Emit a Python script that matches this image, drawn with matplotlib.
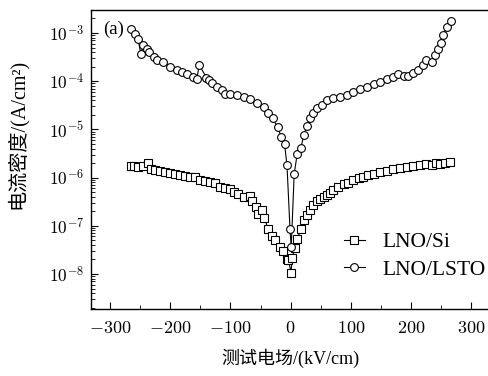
import matplotlib
matplotlib.use("Agg")
import matplotlib.pyplot as plt
from matplotlib.ticker import FuncFormatter, FixedLocator, NullFormatter
import numpy as np

plt.rcParams['mathtext.fontset'] = 'cm'

# LNO/Si (squares)
si_x = [-266, -260, -253, -246, -238, -232, -225, -217, -209, -200, -192, -184, -175, -167,
        -159, -150, -142, -134, -125, -117, -109, -100, -94, -87, -78, -68, -64, -58, -54,
        -48, -44, -37, -31, -26, -17, -12, -6, -4, 1, 2, 7, 11, 17, 22, 27, 32, 38, 44, 49,
        55, 60, 66, 71, 79, 88, 96, 104, 113, 121, 129, 138, 149, 160, 171, 182, 193, 204,
        215, 226, 235, 242, 248, 257, 265]
si_y = [1.77e-6, 1.74e-6, 1.69e-6, 1.74e-6, 2.0e-6, 1.5e-6, 1.44e-6, 1.38e-6, 1.29e-6,
        1.23e-6, 1.19e-6, 1.12e-6, 1.08e-6, 1.02e-6, 1.02e-6, 9.1e-7, 8.6e-7, 8.0e-7,
        7.6e-7, 6.5e-7, 6.2e-7, 5.7e-7, 5.1e-7, 4.5e-7, 4.0e-7, 4.1e-7, 3.2e-7, 2.5e-7,
        1.76e-7, 2.1e-7, 1.48e-7, 8.5e-8, 6.2e-8, 5.1e-8, 3.7e-8, 3.0e-8, 2.0e-8, 1.95e-8,
        1.07e-8, 2.1e-8, 3.4e-8, 5.2e-8, 8.5e-8, 1.32e-7, 1.66e-7, 2.1e-7, 2.7e-7, 3.2e-7,
        3.55e-7, 3.9e-7, 4.4e-7, 4.9e-7, 5.4e-7, 6.3e-7, 7.2e-7, 7.9e-7, 8.9e-7, 9.7e-7,
        1.05e-6, 1.12e-6, 1.19e-6, 1.31e-6, 1.39e-6, 1.49e-6, 1.55e-6, 1.63e-6, 1.74e-6,
        1.80e-6, 1.91e-6, 1.82e-6, 2.04e-6, 1.91e-6, 2.04e-6, 2.14e-6]

# LNO/LSTO (circles)
lsto_x = [-265, -258, -254, -249, -245, -239, -235, -228, -222, -212, -200, -189, -180,
          -172, -162, -156, -152, -140, -135, -131, -123, -114, -109, -100, -89, -78, -67,
          -56, -45, -37, -30, -21, -16, -10, -6, -1, 1, 6, 11, 17, 22, 27, 32, 38, 44, 52,
          60, 71, 82, 93, 104, 116, 127, 138, 149, 160, 171, 179, 188, 196, 204, 212, 221,
          226, 235, 240, 246, 250, 254, 260, 267]
lsto_y = [1.2e-3, 9.4e-4, 7.5e-4, 3.7e-4, 5.6e-4, 4.6e-4, 4.1e-4, 3.2e-4, 2.8e-4, 2.5e-4,
          2.0e-4, 1.7e-4, 1.55e-4, 1.4e-4, 1.24e-4, 1.1e-4, 2.2e-4, 1.18e-4, 1.05e-4, 9.1e-5,
          7.5e-5, 6.6e-5, 5.4e-5, 5.4e-5, 5.1e-5, 4.8e-5, 4.2e-5, 3.5e-5, 2.9e-5, 2.15e-5,
          1.7e-5, 1.1e-5, 7.0e-6, 4.9e-6, 1.8e-6, 8.5e-8, 3.6e-8, 1.2e-6, 3.1e-6, 4.1e-6,
          7.6e-6, 1.15e-5, 1.7e-5, 2.15e-5, 2.75e-5, 3.2e-5, 4.0e-5, 4.4e-5, 4.8e-5, 5.1e-5,
          6.0e-5, 6.8e-5, 7.7e-5, 8.8e-5, 9.8e-5, 1.1e-4, 1.2e-4, 1.4e-4, 1.28e-4, 1.28e-4,
          1.46e-4, 1.7e-4, 2.2e-4, 2.7e-4, 2.5e-4, 3.5e-4, 4.6e-4, 6.1e-4, 9.1e-4, 1.35e-3,
          1.8e-3]

x_ticks = [-300, -200, -100, 0, 100, 200, 300]
x_minor = [-250, -150, -50, 50, 150, 250]
y_ticks = [1e-8, 1e-7, 1e-6, 1e-5, 1e-4, 1e-3]
labels = ['LNO/Si', 'LNO/LSTO']
xlabel = '测试电场/(kV/cm)'
ylabel = '电流密度/(A/cm²)'

fig = plt.figure(figsize=(4.89, 3.76), dpi=100)
ax = fig.add_axes([91/489, 67/376, 398/489, 299/376])

ax.plot(si_x, si_y, '-s', color='black', lw=0.8, ms=5.2, mfc='white', mec='black', mew=0.8,
        label=labels[0])
ax.plot(lsto_x, lsto_y, '-o', color='black', lw=0.8, ms=5.6, mfc='white', mec='black', mew=0.8,
        label=labels[1])

ax.set_yscale('log')
ax.set_xlim(-332, 330)
ax.set_ylim(10**-8.726, 10**-2.523)

y_minor = [m * d for d in [1e-9, 1e-8, 1e-7, 1e-6, 1e-5, 1e-4, 1e-3] for m in range(2, 10)
           if 10**-8.726 < m * d < 10**-2.523]
ax.xaxis.set_major_locator(FixedLocator(x_ticks))
ax.xaxis.set_minor_locator(FixedLocator(x_minor))
ax.yaxis.set_major_locator(FixedLocator(y_ticks))
ax.yaxis.set_minor_locator(FixedLocator(y_minor))
ax.yaxis.set_minor_formatter(NullFormatter())
ax.xaxis.set_minor_formatter(NullFormatter())
ax.xaxis.set_major_formatter(FuncFormatter(lambda v, p: f'${v:g}$'))
ax.yaxis.set_major_formatter(FuncFormatter(lambda v, p: f'$10^{{{int(round(np.log10(v)))}}}$'))

ax.tick_params(which='both', direction='in', top=False, right=False)
ax.tick_params(axis='x', labelsize=13, pad=7)
ax.tick_params(axis='y', labelsize=12.5, pad=5)
ax.tick_params(which='major', length=5, width=0.8)
ax.tick_params(which='minor', length=3, width=0.6)
ax.spines['right'].set_visible(False)
for s in ['left', 'bottom', 'top']:
    ax.spines[s].set_linewidth(1.0)

fam = ['Liberation Serif', 'Noto Sans CJK SC']
ax.set_xlabel(xlabel, fontsize=13, family=fam)
ax.set_ylabel(ylabel, fontsize=14.5, family=fam)
ax.xaxis.set_label_coords(0.501, -0.132)
ax.yaxis.set_label_coords(-0.158, 0.585)

ax.text(0.03, 0.936, '(a)', transform=ax.transAxes, fontsize=13.5, family='Liberation Serif',
        va='center', ha='left')

leg = ax.legend(loc='upper left', bbox_to_anchor=(0.635, 0.257), frameon=False,
                handlelength=1.0, handletextpad=0.8, borderpad=0, borderaxespad=0,
                labelspacing=0.35, prop={'family': 'Liberation Serif', 'size': 15.5})

fig.savefig('out.png', dpi=100)
